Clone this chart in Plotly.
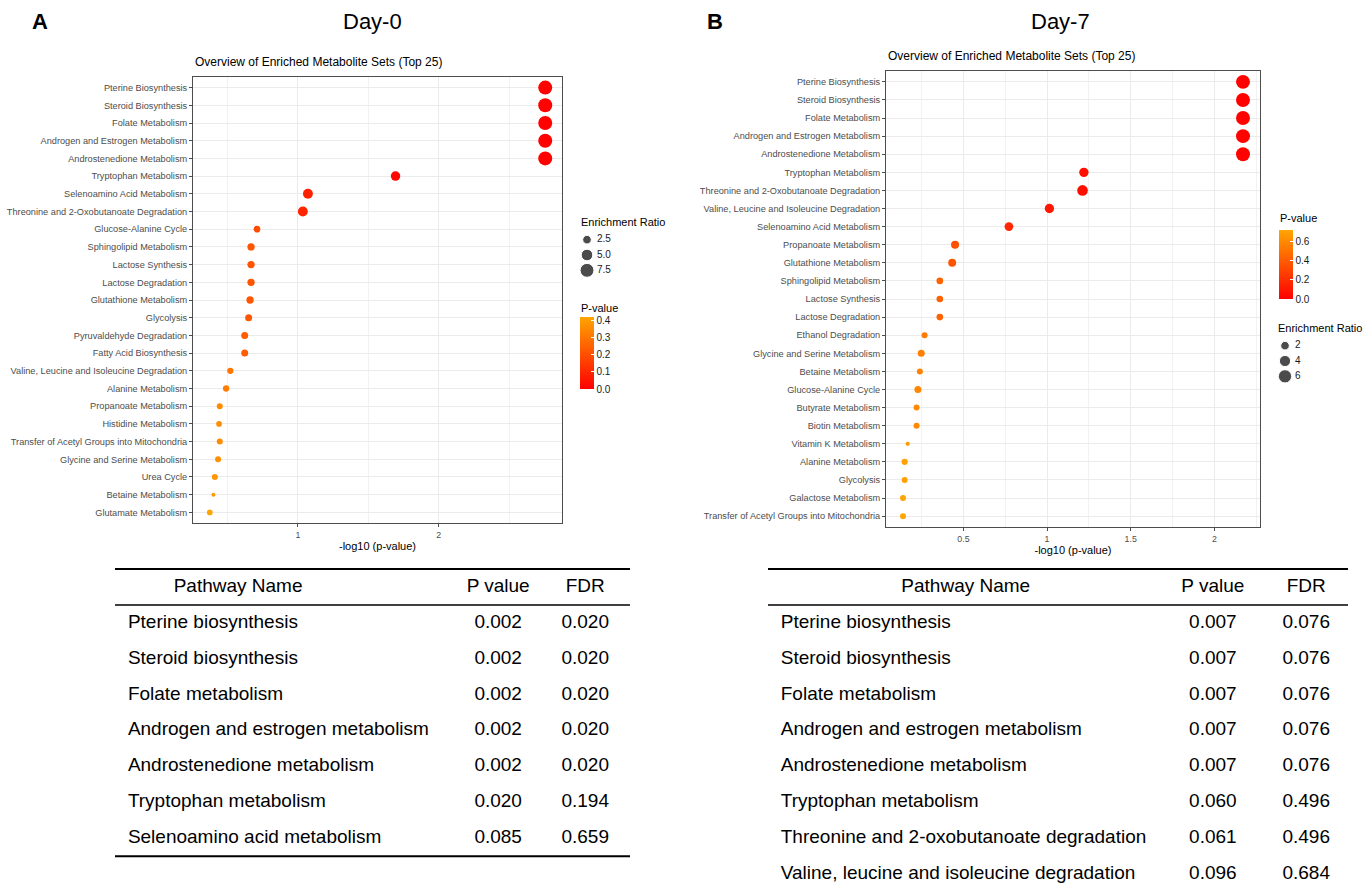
import numpy as np
import plotly.graph_objects as go

W, H = 1371, 888

# ---------------- data ----------------
day0_sets = [
    "Pterine Biosynthesis", "Steroid Biosynthesis", "Folate Metabolism",
    "Androgen and Estrogen Metabolism", "Androstenedione Metabolism",
    "Tryptophan Metabolism", "Selenoamino Acid Metabolism",
    "Threonine and 2-Oxobutanoate Degradation", "Glucose-Alanine Cycle",
    "Sphingolipid Metabolism", "Lactose Synthesis", "Lactose Degradation",
    "Glutathione Metabolism", "Glycolysis", "Pyruvaldehyde Degradation",
    "Fatty Acid Biosynthesis", "Valine, Leucine and Isoleucine Degradation",
    "Alanine Metabolism", "Propanoate Metabolism", "Histidine Metabolism",
    "Transfer of Acetyl Groups into Mitochondria", "Glycine and Serine Metabolism",
    "Urea Cycle", "Betaine Metabolism", "Glutamate Metabolism",
]
day0_neglog10p = [
    2.756, 2.756, 2.756, 2.756, 2.756, 1.693, 1.071, 1.035, 0.709,
    0.667, 0.667, 0.667, 0.660, 0.650, 0.622, 0.622, 0.520, 0.490,
    0.445, 0.440, 0.445, 0.433, 0.410, 0.400, 0.374,
]
day0_enrichment = [
    8.35, 8.35, 8.35, 8.35, 8.35, 3.65, 4.0, 4.0, 1.65,
    2.03, 2.03, 2.03, 2.03, 1.84, 1.84, 1.84, 1.42, 1.42,
    1.26, 1.10, 1.26, 1.26, 1.26, 0.38, 1.10,
]

day7_sets = [
    "Pterine Biosynthesis", "Steroid Biosynthesis", "Folate Metabolism",
    "Androgen and Estrogen Metabolism", "Androstenedione Metabolism",
    "Tryptophan Metabolism", "Threonine and 2-Oxobutanoate Degradation",
    "Valine, Leucine and Isoleucine Degradation", "Selenoamino Acid Metabolism",
    "Propanoate Metabolism", "Glutathione Metabolism", "Sphingolipid Metabolism",
    "Lactose Synthesis", "Lactose Degradation", "Ethanol Degradation",
    "Glycine and Serine Metabolism", "Betaine Metabolism", "Glucose-Alanine Cycle",
    "Butyrate Metabolism", "Biotin Metabolism", "Vitamin K Metabolism",
    "Alanine Metabolism", "Glycolysis", "Galactose Metabolism",
    "Transfer of Acetyl Groups into Mitochondria",
]
day7_neglog10p = [
    2.171, 2.171, 2.171, 2.171, 2.171, 1.220, 1.212, 1.014, 0.772,
    0.450, 0.433, 0.359, 0.359, 0.359, 0.268, 0.248, 0.240, 0.228,
    0.220, 0.220, 0.167, 0.149, 0.149, 0.139, 0.139,
]
day7_enrichment = [
    7.4, 7.4, 7.4, 7.4, 7.4, 2.95, 4.07, 2.95, 2.48,
    2.0, 2.0, 1.19, 1.19, 1.19, 0.85, 1.38, 0.85, 1.38,
    0.85, 0.85, 0.10, 0.99, 0.85, 0.85, 0.85,
]

table0_names = [
    "Pterine biosynthesis", "Steroid biosynthesis", "Folate metabolism",
    "Androgen and estrogen metabolism", "Androstenedione metabolism",
    "Tryptophan metabolism", "Selenoamino acid metabolism",
]
table0_p = ["0.002", "0.002", "0.002", "0.002", "0.002", "0.020", "0.085"]
table0_fdr = ["0.020", "0.020", "0.020", "0.020", "0.020", "0.194", "0.659"]

table7_names = [
    "Pterine biosynthesis", "Steroid biosynthesis", "Folate metabolism",
    "Androgen and estrogen metabolism", "Androstenedione metabolism",
    "Tryptophan metabolism", "Threonine and 2-oxobutanoate degradation",
    "Valine, leucine and isoleucine degradation",
]
table7_p = ["0.007", "0.007", "0.007", "0.007", "0.007", "0.060", "0.061", "0.096"]
table7_fdr = ["0.076", "0.076", "0.076", "0.076", "0.076", "0.496", "0.496", "0.684"]

table_headers = ["Pathway Name", "P value", "FDR"]
size_breaks0 = [2.5, 5.0, 7.5]
size_breaks7 = [2, 4, 6]
pbar_ticks0 = [0.0, 0.1, 0.2, 0.3, 0.4]
pbar_ticks7 = [0.0, 0.2, 0.4, 0.6]

# ---------------- helpers ----------------
FONT = "Liberation Sans, Arial, Helvetica, sans-serif"


def px(x):
    return x / W


def py(y):
    return 1 - y / H


def diam0(er):
    return np.sqrt(7.5 + 22.6 * np.asarray(er, dtype=float))


def diam7(er):
    return np.sqrt(15.5 + 24.25 * np.asarray(er, dtype=float))


def expand(vals, f=0.05):
    lo, hi = min(vals), max(vals)
    s = hi - lo
    return [lo - f * s, hi + f * s]


COLORSCALE = [[0, "#FF0000"], [1, "#FFA500"]]

fig = go.Figure()
layout = dict(
    width=W, height=H, margin=dict(l=0, r=0, t=0, b=0),
    paper_bgcolor="white", plot_bgcolor="white", showlegend=False,
    font=dict(family=FONT, color="black"),
)


def dot_panel(idx, sets, xvals, ers, diamfn, xdom, ydom, dtick, minor_dtick,
              cb_x, cb_top, cb_bot, cb_ticks):
    n = len(sets)
    pvals = [10 ** (-v) for v in xvals]
    xa = "xaxis" if idx == 1 else f"xaxis{idx}"
    ya = "yaxis" if idx == 1 else f"yaxis{idx}"
    xr = "x" if idx == 1 else f"x{idx}"
    yr = "y" if idx == 1 else f"y{idx}"
    layout[xa] = dict(
        domain=[px(xdom[0]), px(xdom[1])], anchor=yr, range=expand(xvals),
        tick0=0, dtick=dtick, showgrid=True, gridcolor="#EBEBEB", gridwidth=1,
        minor=dict(tick0=0, dtick=minor_dtick, showgrid=True, gridcolor="#F2F2F2", gridwidth=0.6),
        zeroline=False, showline=True, mirror=True, linecolor="#4D4D4D", linewidth=1,
        ticks="outside", ticklen=3, tickcolor="#4D4D4D", tickwidth=1,
        tickfont=dict(size=8.8, color="#4D4D4D"),
        title=dict(text="-log10 (p-value)", font=dict(size=11, color="black"), standoff=3),
    )
    layout[ya] = dict(
        domain=[py(ydom[1]), py(ydom[0])], anchor=xr, range=[n - 1 + 0.6, -0.6],
        tickmode="array", tickvals=list(range(n)), ticktext=sets,
        showgrid=True, gridcolor="#EBEBEB", gridwidth=1, zeroline=False,
        showline=True, mirror=True, linecolor="#4D4D4D", linewidth=1,
        ticks="outside", ticklen=3, tickcolor="#4D4D4D", tickwidth=1,
        tickfont=dict(size=9.2, color="#4D4D4D"),
    )
    fig.add_trace(go.Scatter(
        x=xvals, y=list(range(n)), mode="markers", xaxis=xr, yaxis=yr,
        marker=dict(
            size=diamfn(ers), sizemode="diameter", color=pvals,
            colorscale=COLORSCALE, cmin=0, cmax=max(pvals), opacity=1,
            line=dict(width=0),
            colorbar=dict(
                x=px(cb_x), xanchor="left", xpad=0, ypad=0,
                y=py((cb_top + cb_bot) / 2), yanchor="middle",
                len=cb_bot - cb_top, lenmode="pixels", thickness=14,
                thicknessmode="pixels", outlinewidth=0,
                tickmode="array", tickvals=cb_ticks,
                ticktext=[f"{t:.1f}" for t in cb_ticks],
                ticks="inside", tickcolor="white", ticklen=3,
                tickfont=dict(size=10, color="#1A1A1A", family=FONT),
            ),
        ),
        hoverinfo="skip",
    ))


dot_panel(1, day0_sets, day0_neglog10p, day0_enrichment, diam0,
          (193, 562), (77, 523), 1, 0.5, 580, 317, 389, pbar_ticks0)
dot_panel(2, day7_sets, day7_neglog10p, day7_enrichment, diam7,
          (886, 1260), (71, 527), 0.5, 0.25, 1279, 230, 299, pbar_ticks7)


def size_legend(idx, breaks, labels, diamfn, xdom, ydom):
    xr, yr = f"x{idx}", f"y{idx}"
    layout[f"xaxis{idx}"] = dict(domain=[px(xdom[0]), px(xdom[1])], range=[0, xdom[1] - xdom[0]],
                                 visible=False, anchor=yr, fixedrange=True)
    layout[f"yaxis{idx}"] = dict(domain=[py(ydom[1]), py(ydom[0])], range=[len(breaks) - 0.5, -0.5],
                                 visible=False, anchor=xr, fixedrange=True)
    rows = list(range(len(breaks)))
    fig.add_trace(go.Scatter(
        x=[9] * len(breaks), y=rows, mode="markers", xaxis=xr, yaxis=yr,
        marker=dict(size=diamfn(breaks) + 0.6, sizemode="diameter", color="black"),
        hoverinfo="skip", cliponaxis=False,
    ))
    fig.add_trace(go.Scatter(
        x=[19] * len(breaks), y=rows, mode="text", xaxis=xr, yaxis=yr,
        text=labels, textposition="middle right",
        textfont=dict(size=10, color="#1A1A1A", family=FONT),
        hoverinfo="skip", cliponaxis=False,
    ))


size_legend(3, size_breaks0, [f"{b:.1f}" for b in size_breaks0], diam0, (578, 640), (232, 278))
size_legend(4, size_breaks7, [str(b) for b in size_breaks7], diam7, (1276, 1340), (338, 384))

ROW = 35.9
HDR_RULE = 605


def table(idx, names, pv, fdr, xdom, ytop, ybot, name_x, hdr_x, p_x, fdr_x):
    xr, yr = f"x{idx}", f"y{idx}"
    v_top = (ytop - HDR_RULE) / ROW - 0.5
    v_bot = (ybot - HDR_RULE) / ROW - 0.5
    layout[f"xaxis{idx}"] = dict(domain=[px(xdom[0]), px(xdom[1])], range=[0, 1],
                                 visible=False, anchor=yr, fixedrange=True)
    layout[f"yaxis{idx}"] = dict(domain=[py(ybot), py(ytop)], range=[v_bot, v_top],
                                 visible=False, anchor=xr, fixedrange=True)
    tf = dict(size=19, color="black", family=FONT)
    n = len(names)
    fig.add_trace(go.Scatter(
        x=[hdr_x, p_x, fdr_x], y=[-1, -1, -1], mode="text", text=table_headers,
        textposition="middle center", textfont=tf, xaxis=xr, yaxis=yr,
        hoverinfo="skip", cliponaxis=False,
    ))
    fig.add_trace(go.Scatter(
        x=[name_x] * n, y=list(range(n)), mode="text", text=names,
        textposition="middle right", textfont=tf, xaxis=xr, yaxis=yr,
        hoverinfo="skip", cliponaxis=False,
    ))
    fig.add_trace(go.Scatter(
        x=[p_x] * n + [fdr_x] * n, y=list(range(n)) * 2, mode="text", text=pv + fdr,
        textposition="middle center", textfont=tf, xaxis=xr, yaxis=yr,
        hoverinfo="skip", cliponaxis=False,
    ))
    for yv, w in ((-1.5, 2), (-0.5, 1.5), (n - 0.5, 2)):
        fig.add_shape(type="line", xref=xr, yref=yr, x0=0, x1=1, y0=yv, y1=yv,
                      line=dict(color="black", width=w))


table(5, table0_names, table0_p, table0_fdr, (115, 630), 560, 870, 0.025, 0.239, 0.744, 0.913)
table(6, table7_names, table7_p, table7_fdr, (768, 1348), 560, 888, 0.022, 0.341, 0.767, 0.928)

ann = []


def text(x, y, s, size, xanchor="center", bold=False, color="black"):
    ann.append(dict(
        x=px(x), y=py(y), xref="paper", yref="paper", text=f"<b>{s}</b>" if bold else s,
        showarrow=False, xanchor=xanchor, yanchor="middle",
        font=dict(size=size, color=color, family=FONT),
    ))


text(40, 22, "A", 22, bold=True)
text(372, 22, "Day-0", 22)
text(715, 22, "B", 22, bold=True)
text(1060, 22, "Day-7", 22)
text(193, 62, "Overview of Enriched Metabolite Sets (Top 25)", 12, xanchor="left")
text(886, 56, "Overview of Enriched Metabolite Sets (Top 25)", 12, xanchor="left")
text(579, 222, "Enrichment Ratio", 11, xanchor="left")
text(579, 308, "P-value", 11, xanchor="left")
text(1278, 218, "P-value", 11, xanchor="left")
text(1276, 328, "Enrichment Ratio", 11, xanchor="left")
layout["annotations"] = ann

fig.update_layout(**layout)
fig.write_html(
    "out.html",
    config={"displayModeBar": False},
    post_script="document.body.style.margin='0';document.body.style.overflow='hidden';",
)
